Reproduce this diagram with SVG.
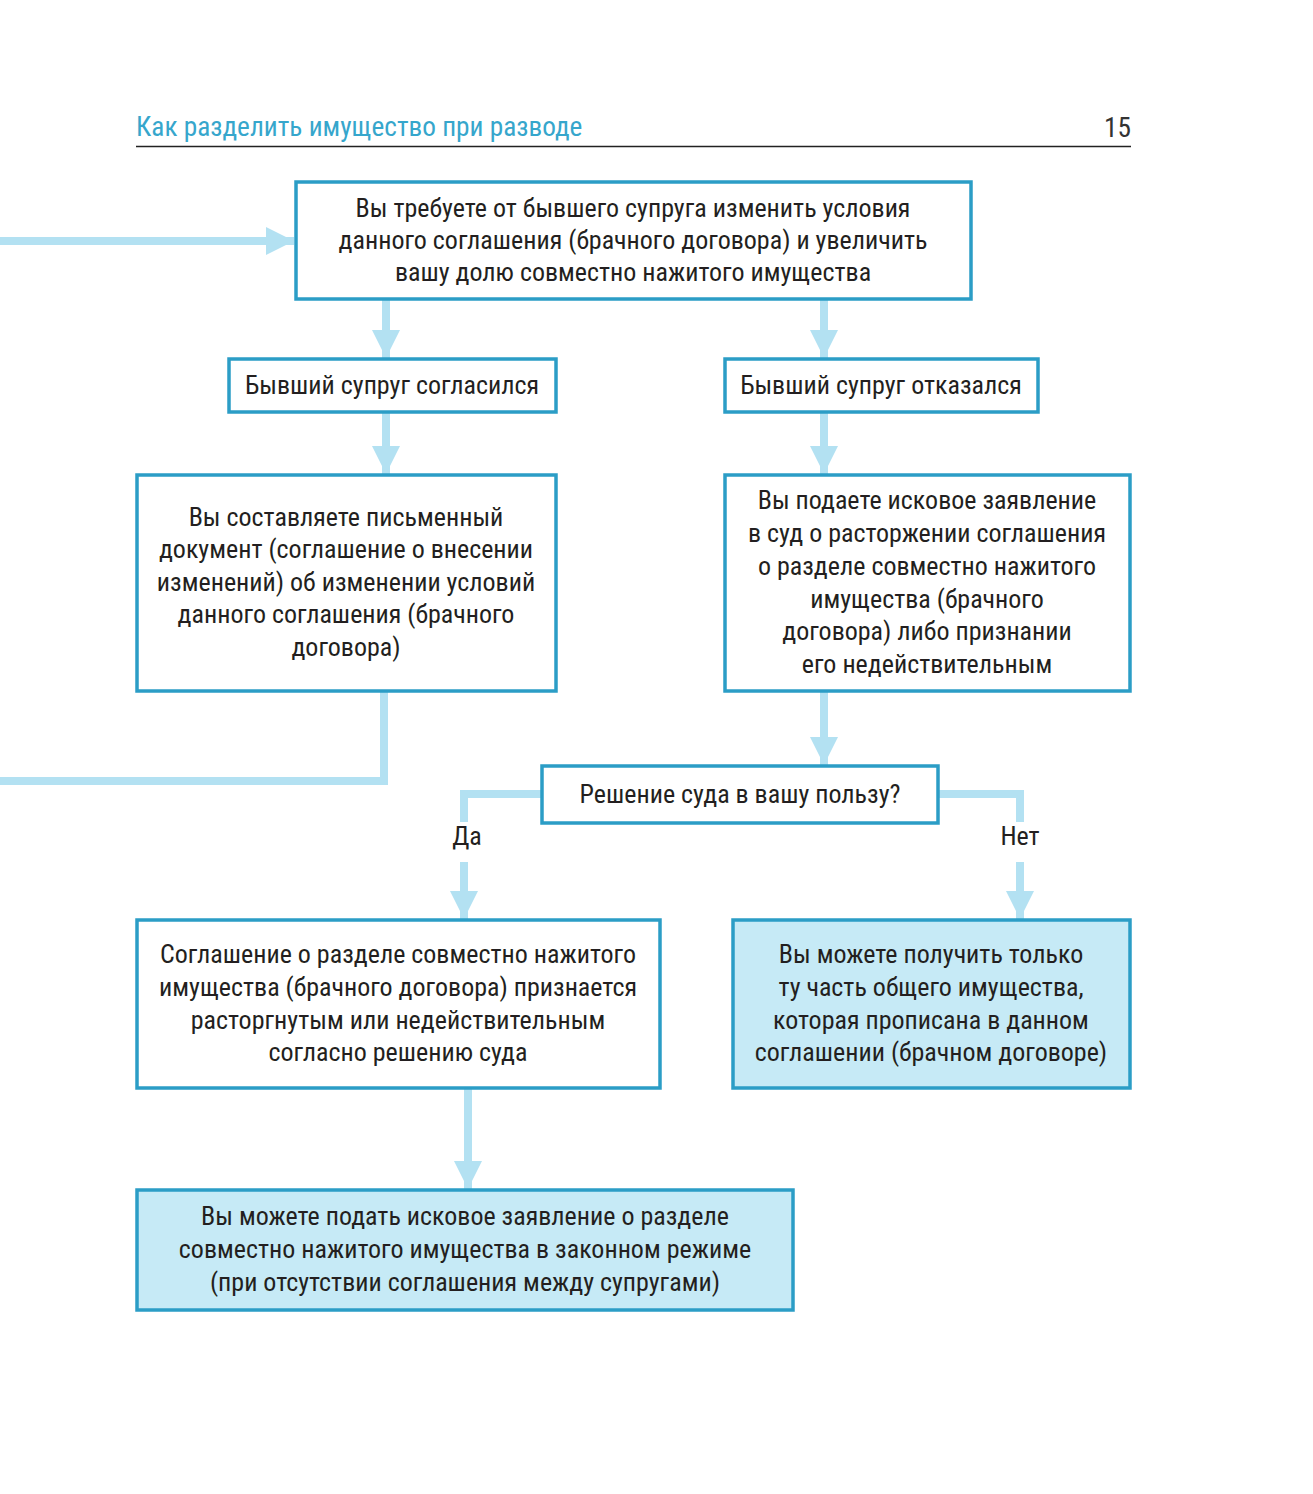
<svg xmlns="http://www.w3.org/2000/svg" width="1313" height="1494" viewBox="0 0 1313 1494">
<style>
  .box{fill:#fff;stroke:#2b9dc6;stroke-width:3.5}
  .fill{fill:#c6eaf6}
  .t{font-family:"Roboto Condensed","Liberation Sans Narrow","Liberation Sans",sans-serif;font-size:26px;fill:#231f20;text-anchor:middle}
  .con{fill:none;stroke:#b3e1f2;stroke-width:8}
  .hd{font-family:"Roboto Condensed","Liberation Sans Narrow","Liberation Sans",sans-serif;font-size:27.3px;fill:#36a6cc}
</style>
<defs>
  <marker id="ah" markerUnits="userSpaceOnUse" markerWidth="30" markerHeight="30" refX="28" refY="14" orient="auto" viewBox="0 0 30 28">
    <path d="M0,0 L28,14 L0,28 Z" fill="#b3e1f2"/>
  </marker>
</defs>
<rect width="1313" height="1494" fill="#fff"/>
<g id="header">
  <text class="hd" x="136" y="136">Как разделить имущество при разводе</text>
  <text class="hd" x="1131" y="137" text-anchor="end" style="fill:#333">15</text>
  <line x1="136" y1="146.5" x2="1131" y2="146.5" stroke="#222" stroke-width="1.3"/>
</g>
<g id="connectors">
  <line class="con" x1="0" y1="241" x2="294" y2="241" marker-end="url(#ah)"/>
  <line class="con" x1="386" y1="300" x2="386" y2="358" marker-end="url(#ah)"/>
  <line class="con" x1="824" y1="300" x2="824" y2="358" marker-end="url(#ah)"/>
  <line class="con" x1="386" y1="413" x2="386" y2="474" marker-end="url(#ah)"/>
  <line class="con" x1="824" y1="413" x2="824" y2="474" marker-end="url(#ah)"/>
  <polyline class="con" points="384,692 384,781 0,781"/>
  <line class="con" x1="824" y1="692" x2="824" y2="765" marker-end="url(#ah)"/>
  <polyline class="con" points="542,794 464,794 464,822"/>
  <line class="con" x1="464" y1="862" x2="464" y2="919" marker-end="url(#ah)"/>
  <polyline class="con" points="938,794 1020,794 1020,822"/>
  <line class="con" x1="1020" y1="862" x2="1020" y2="919" marker-end="url(#ah)"/>
  <line class="con" x1="468" y1="1089" x2="468" y2="1189" marker-end="url(#ah)"/>
  <text class="t" x="467" y="845">Да</text>
  <text class="t" x="1020" y="845">Нет</text>
</g>
<g id="n1">
  <rect class="box" x="296" y="182" width="675" height="117"/>
  <text class="t" x="633" y="217">Вы требуете от бывшего супруга изменить условия</text>
  <text class="t" x="633" y="249">данного соглашения (брачного договора) и увеличить</text>
  <text class="t" x="633" y="281">вашу долю совместно нажитого имущества</text>
</g>
<g id="n2">
  <rect class="box" x="229" y="359" width="327" height="53"/>
  <text class="t" x="392" y="394">Бывший супруг согласился</text>
</g>
<g id="n3">
  <rect class="box" x="725" y="359" width="313" height="53"/>
  <text class="t" x="881" y="394">Бывший супруг отказался</text>
</g>
<g id="n4">
  <rect class="box" x="137" y="475" width="419" height="216"/>
  <text class="t" x="346" y="526">Вы составляете письменный</text>
  <text class="t" x="346" y="558">документ (соглашение о внесении</text>
  <text class="t" x="346" y="591">изменений) об изменении условий</text>
  <text class="t" x="346" y="623">данного соглашения (брачного</text>
  <text class="t" x="346" y="656">договора)</text>
</g>
<g id="n5">
  <rect class="box" x="725" y="475" width="405" height="216"/>
  <text class="t" x="927" y="509">Вы подаете исковое заявление</text>
  <text class="t" x="927" y="542">в суд о расторжении соглашения</text>
  <text class="t" x="927" y="575">о разделе совместно нажитого</text>
  <text class="t" x="927" y="608">имущества (брачного</text>
  <text class="t" x="927" y="640">договора) либо признании</text>
  <text class="t" x="927" y="673">его недействительным</text>
</g>
<g id="n6">
  <rect class="box" x="542" y="766" width="396" height="57"/>
  <text class="t" x="740" y="803">Решение суда в вашу пользу?</text>
</g>
<g id="n7">
  <rect class="box" x="137" y="920" width="523" height="168"/>
  <text class="t" x="398" y="963">Соглашение о разделе совместно нажитого</text>
  <text class="t" x="398" y="996">имущества (брачного договора) признается</text>
  <text class="t" x="398" y="1029">расторгнутым или недействительным</text>
  <text class="t" x="398" y="1061">согласно решению суда</text>
</g>
<g id="n8">
  <rect class="box fill" x="733" y="920" width="397" height="168"/>
  <text class="t" x="931" y="963">Вы можете получить только</text>
  <text class="t" x="931" y="996">ту часть общего имущества,</text>
  <text class="t" x="931" y="1029">которая прописана в данном</text>
  <text class="t" x="931" y="1061">соглашении (брачном договоре)</text>
</g>
<g id="n9">
  <rect class="box fill" x="137" y="1190" width="656" height="120"/>
  <text class="t" x="465" y="1225">Вы можете подать исковое заявление о разделе</text>
  <text class="t" x="465" y="1258">совместно нажитого имущества в законном режиме</text>
  <text class="t" x="465" y="1291">(при отсутствии соглашения между супругами)</text>
</g>
</svg>
